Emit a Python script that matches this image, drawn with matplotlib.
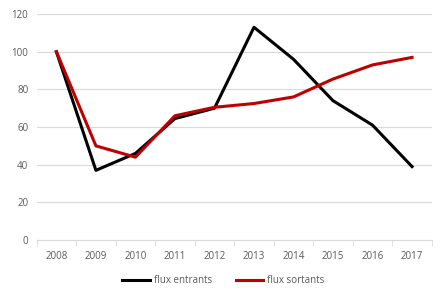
import matplotlib.pyplot as plt
import numpy as np

years = ["2008", "2009", "2010", "2011", "2012", "2013", "2014", "2015", "2016", "2017"]
flux_entrants = [100, 37, 46, 64.5, 70, 113, 96, 74, 61, 39]
flux_sortants = [100, 50, 44, 66, 70.5, 72.5, 76, 85.5, 93, 97]

plt.rcParams['font.family'] = ['Open Sans', 'DejaVu Sans']

fig = plt.figure(figsize=(4.47, 3.0), dpi=100)
ax = fig.add_axes([0.082, 0.2, 0.884, 0.753])

x = np.arange(len(years))
ax.plot(x, flux_entrants, color="black", lw=2.2, label="flux entrants", solid_joinstyle="round")
ax.plot(x, flux_sortants, color="#c00000", lw=2.2, label="flux sortants", solid_joinstyle="round")

ax.set_xlim(-0.5, len(years) - 0.5)
ax.set_ylim(0, 120)
ax.set_yticks(range(0, 121, 20))
ax.set_xticks(x)
ax.set_xticklabels(years)
ax.set_xticks(np.arange(-0.5, len(years), 1), minor=True)
ax.tick_params(axis="x", which="major", length=0, pad=8, labelsize=7, colors="#595959")
ax.tick_params(axis="x", which="minor", length=4, color="#d9d9d9")
ax.tick_params(axis="y", length=0, pad=6, labelsize=7, colors="#595959")

ax.grid(axis="y", color="#d9d9d9", lw=0.8)
ax.set_axisbelow(True)
for side in ["left", "top", "right"]:
    ax.spines[side].set_visible(False)
ax.spines["bottom"].set_color("#d9d9d9")

fig.legend(loc="center", bbox_to_anchor=(0.5, 0.064), ncol=2, frameon=False,
           fontsize=7, labelcolor="#595959", handlelength=2.8, columnspacing=2.5,
           handletextpad=0.4)

fig.savefig("out.png", dpi=100)
